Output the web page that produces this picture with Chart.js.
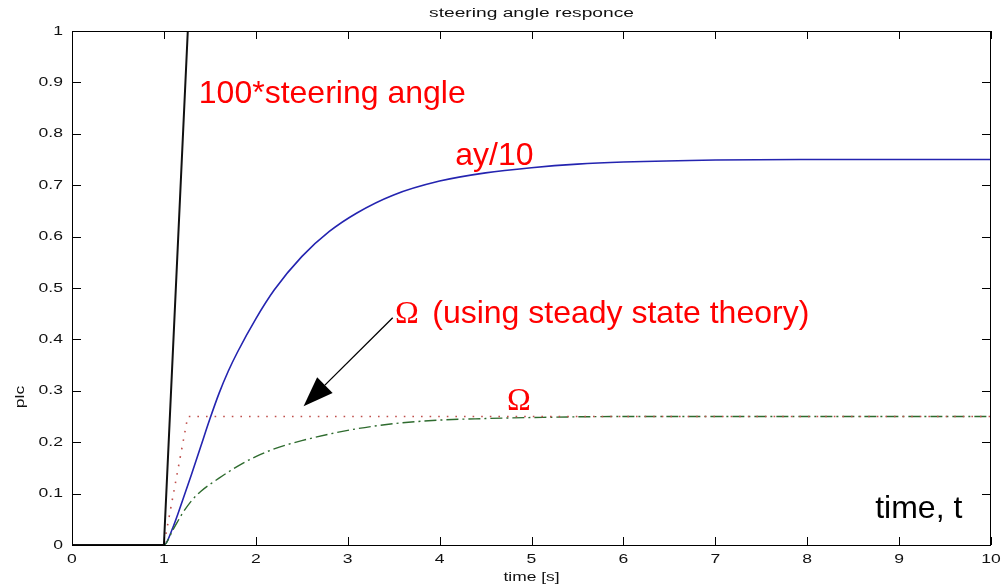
<!DOCTYPE html>
<html>
<head>
    <meta charset="utf-8">
    <title>steering angle responce</title>
    <script src="https://cdn.jsdelivr.net/npm/chart.js"></script>
    <style>
        body {
            margin: 0;
            background-color: #ffffff;
        }
        #wrap {
            width: 1003px;
            height: 587px;
        }
    </style>
</head>
<body>
    <div id="wrap"><canvas id="myChart" width="1003" height="587"></canvas></div>
    <script>
        // 100*steering angle
        var steerT = [0, 1, 1.26, 10];
        var steerV = [0, 0, 1, 1];

        // ay/10
        var ayT = [0, 1, 1.1, 1.2, 1.3, 1.4, 1.5, 1.6, 1.7, 1.8, 2.0, 2.2, 2.5, 2.8, 3.1, 3.5, 4.0, 4.5, 5, 5.5, 6, 7, 8, 10];
        var ayV = [0, 0, 0.035, 0.085, 0.137, 0.191, 0.245, 0.295, 0.338, 0.375, 0.44, 0.496, 0.561, 0.61, 0.646, 0.681, 0.708, 0.724, 0.734, 0.741, 0.745, 0.749, 0.75, 0.75];

        // Omega (steady state theory)
        var ssT = [0, 1, 1.26, 10];
        var ssV = [0, 0, 0.25, 0.25];

        // Omega
        var omT = [0, 1, 1.1, 1.2, 1.3, 1.4, 1.6, 1.8, 2.0, 2.2, 2.5, 3, 3.5, 4, 4.5, 5, 6, 7, 10];
        var omV = [0, 0, 0.03, 0.061, 0.086, 0.104, 0.13, 0.153, 0.172, 0.187, 0.203, 0.223, 0.236, 0.243, 0.246, 0.248, 0.25, 0.25, 0.25];

        var xTicks = [0, 1, 2, 3, 4, 5, 6, 7, 8, 9, 10];
        var yTicks = [0, 0.1, 0.2, 0.3, 0.4, 0.5, 0.6, 0.7, 0.8, 0.9, 1];

        function pts(t, v) {
            return t.map(function (x, i) { return { x: x, y: v[i] }; });
        }

        // stretched text like the old matlab helvetica
        function wideText(ctx, txt, x, y, size, sx, align) {
            ctx.save();
            ctx.font = size + 'px "Liberation Sans", Arial, sans-serif';
            ctx.fillStyle = '#111';
            ctx.textBaseline = 'middle';
            var w = ctx.measureText(txt).width * sx;
            var left = align === 'right' ? x - w : (align === 'left' ? x : x - w / 2);
            ctx.translate(left, y);
            ctx.scale(sx, 1);
            ctx.textAlign = 'left';
            ctx.fillText(txt, 0, 0);
            ctx.restore();
        }

        var boxPlugin = {
            id: 'box',
            afterDatasetsDraw: function (chart) {
                var ctx = chart.ctx;
                var a = chart.chartArea;
                var xs = chart.scales.x, ys = chart.scales.y;
                ctx.save();
                ctx.strokeStyle = '#000';
                ctx.lineWidth = 1;
                ctx.strokeRect(a.left + 0.5, a.top + 0.5, a.right - a.left - 1, a.bottom - a.top);
                ctx.beginPath();
                xTicks.forEach(function (t) {
                    var px = Math.round(xs.getPixelForValue(t)) + 0.5;
                    ctx.moveTo(px, a.bottom); ctx.lineTo(px, a.bottom - 8);
                    ctx.moveTo(px, a.top); ctx.lineTo(px, a.top + 8);
                });
                yTicks.forEach(function (t) {
                    var py = Math.round(ys.getPixelForValue(t)) + 0.5;
                    ctx.moveTo(a.left, py); ctx.lineTo(a.left + 9, py);
                    ctx.moveTo(a.right, py); ctx.lineTo(a.right - 9, py);
                });
                ctx.stroke();
                ctx.restore();

                xTicks.forEach(function (t) {
                    wideText(ctx, String(t), xs.getPixelForValue(t), a.bottom + 14, 13, 1.35, 'center');
                });
                yTicks.forEach(function (t) {
                    wideText(ctx, String(t), a.left - 9, ys.getPixelForValue(t), 13, 1.35, 'right');
                });
                wideText(ctx, 'steering angle responce', (a.left + a.right) / 2, 14, 12, 1.6, 'center');
                wideText(ctx, 'time [s]', (a.left + a.right) / 2, 578, 12, 1.45, 'center');
                ctx.save();
                ctx.translate(20, 397);
                ctx.rotate(-Math.PI / 2);
                wideText(ctx, 'plc', 0, 0, 13, 1.35, 'center');
                ctx.restore();

                // annotations, placed in data coordinates
                var notes = [
                    { txt: '100*steering angle', t: 1.38, v: 0.86, color: '#ff0000' },
                    { txt: 'ay/10', t: 4.17, v: 0.739, color: '#ff0000' },
                    { txt: '(using steady state theory)', t: 3.92, v: 0.432, color: '#ff0000' },
                    { txt: 'time, t', t: 8.74, v: 0.0525, color: '#000000' }
                ];
                ctx.save();
                ctx.textBaseline = 'alphabetic';
                ctx.textAlign = 'left';
                ctx.font = '32px "Liberation Sans", Arial, sans-serif';
                notes.forEach(function (n) {
                    ctx.fillStyle = n.color;
                    ctx.fillText(n.txt, xs.getPixelForValue(n.t), ys.getPixelForValue(n.v));
                });
                ctx.font = '32px "Liberation Serif", "Times New Roman", serif';
                ctx.fillStyle = '#ff0000';
                ctx.fillText('\u03A9', xs.getPixelForValue(3.515), ys.getPixelForValue(0.432));
                ctx.fillText('\u03A9', xs.getPixelForValue(4.733), ys.getPixelForValue(0.263));

                // arrow to the steady state line
                var x0 = xs.getPixelForValue(3.49), y0 = ys.getPixelForValue(0.442);
                var x1 = xs.getPixelForValue(2.52), y1 = ys.getPixelForValue(0.27);
                var ang = Math.atan2(y1 - y0, x1 - x0);
                var hl = 30, hw = 11;
                var bx = x1 - hl * Math.cos(ang), by = y1 - hl * Math.sin(ang);
                ctx.strokeStyle = '#000';
                ctx.lineWidth = 1.3;
                ctx.beginPath();
                ctx.moveTo(x0, y0);
                ctx.lineTo(bx, by);
                ctx.stroke();
                ctx.fillStyle = '#000';
                ctx.beginPath();
                ctx.moveTo(x1, y1);
                ctx.lineTo(bx + hw * Math.sin(ang), by - hw * Math.cos(ang));
                ctx.lineTo(bx - hw * Math.sin(ang), by + hw * Math.cos(ang));
                ctx.closePath();
                ctx.fill();
                ctx.restore();
            }
        };

        var ctx = document.getElementById('myChart').getContext('2d');
        var chart = new Chart(ctx, {
            type: 'line',
            data: {
                datasets: [
                    {
                        label: '100*steering angle',
                        data: pts(steerT, steerV),
                        borderColor: '#111111',
                        borderWidth: 2,
                        pointRadius: 0,
                        clip: 0
                    },
                    {
                        label: 'Omega steady state',
                        data: pts(ssT, ssV),
                        borderColor: '#c0504d',
                        borderWidth: 1.6,
                        borderDash: [1.6, 7],
                        pointRadius: 0,
                        clip: 0
                    },
                    {
                        label: 'Omega',
                        data: pts(omT, omV),
                        borderColor: '#2e6b2e',
                        borderWidth: 1.4,
                        borderDash: [12, 4, 2, 4],
                        cubicInterpolationMode: 'monotone',
                        pointRadius: 0,
                        clip: 0
                    },
                    {
                        label: 'ay/10',
                        data: pts(ayT, ayV),
                        borderColor: '#2424b0',
                        borderWidth: 1.6,
                        cubicInterpolationMode: 'monotone',
                        pointRadius: 0,
                        clip: 0
                    }
                ]
            },
            options: {
                responsive: false,
                animation: false,
                events: [],
                layout: { padding: { top: 31, right: 12, left: 0, bottom: 0 } },
                plugins: {
                    legend: { display: false },
                    tooltip: { enabled: false }
                },
                scales: {
                    x: {
                        type: 'linear',
                        min: 0,
                        max: 10,
                        grid: { display: false, drawTicks: false },
                        border: { display: false },
                        ticks: { display: false, stepSize: 1 },
                        afterFit: function (s) { s.height = 42; }
                    },
                    y: {
                        min: 0,
                        max: 1,
                        grid: { display: false, drawTicks: false },
                        border: { display: false },
                        ticks: { display: false, stepSize: 0.1 },
                        afterFit: function (s) { s.width = 72; }
                    }
                }
            },
            plugins: [boxPlugin]
        });
    </script>
</body>
</html>
